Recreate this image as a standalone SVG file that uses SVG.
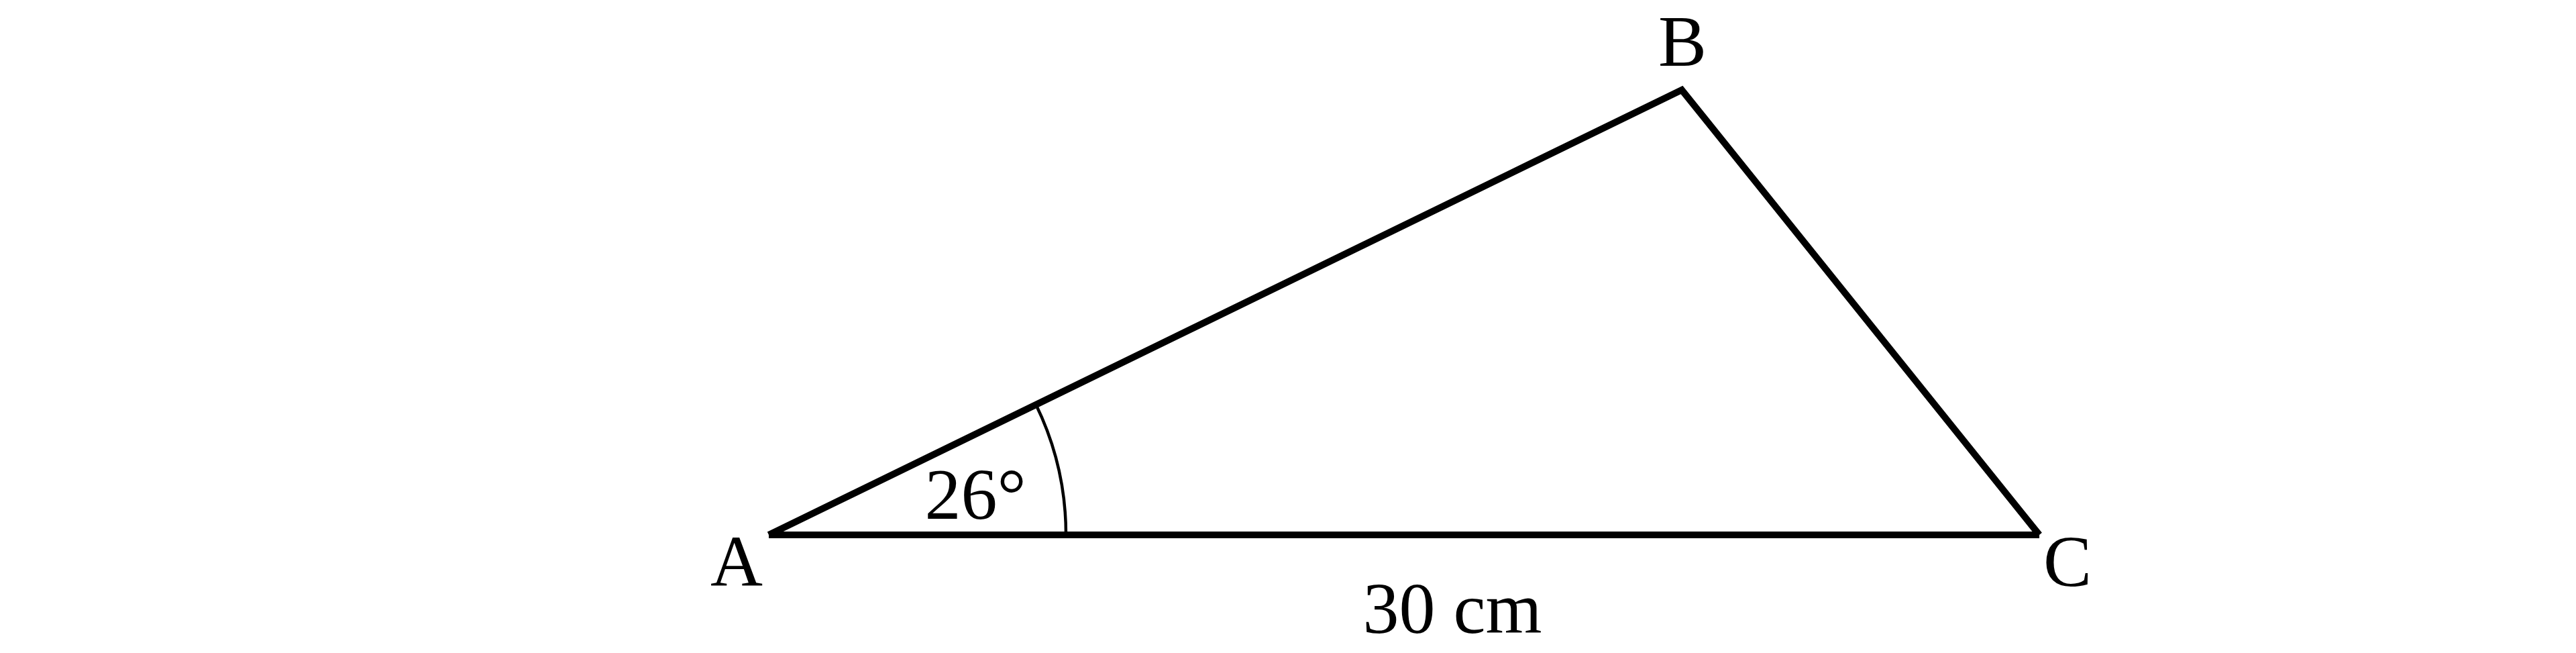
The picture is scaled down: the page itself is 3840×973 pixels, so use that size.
<svg xmlns="http://www.w3.org/2000/svg" width="3840" height="973" viewBox="0 0 3840 973">
<style>
.side{fill:none;stroke:#000;stroke-width:10;stroke-linecap:butt;stroke-linejoin:miter}
.arc{fill:none;stroke:#000;stroke-width:4.5}
.lbl{font-family:"Liberation Serif","DejaVu Serif",serif;font-size:108px;fill:#000;text-anchor:middle}
</style>
<rect width="3840" height="973" fill="#fff"/>
<g id="triangle">
<polyline class="side" points="1146,797 2507,134 3040,797"/>
<line class="side" x1="1146" y1="797" x2="3040" y2="797"/>
<path class="arc" d="M1589,797 A443,443 0 0 0 1544.2,602.8"/>
</g>
<g id="labels">
<text class="lbl" x="1098" y="873">A</text>
<text class="lbl" x="2508" y="98">B</text>
<text class="lbl" x="3082" y="873">C</text>
<text class="lbl" x="1454" y="773">26°</text>
<text class="lbl" x="2165" y="943">30 cm</text>
</g>
</svg>
